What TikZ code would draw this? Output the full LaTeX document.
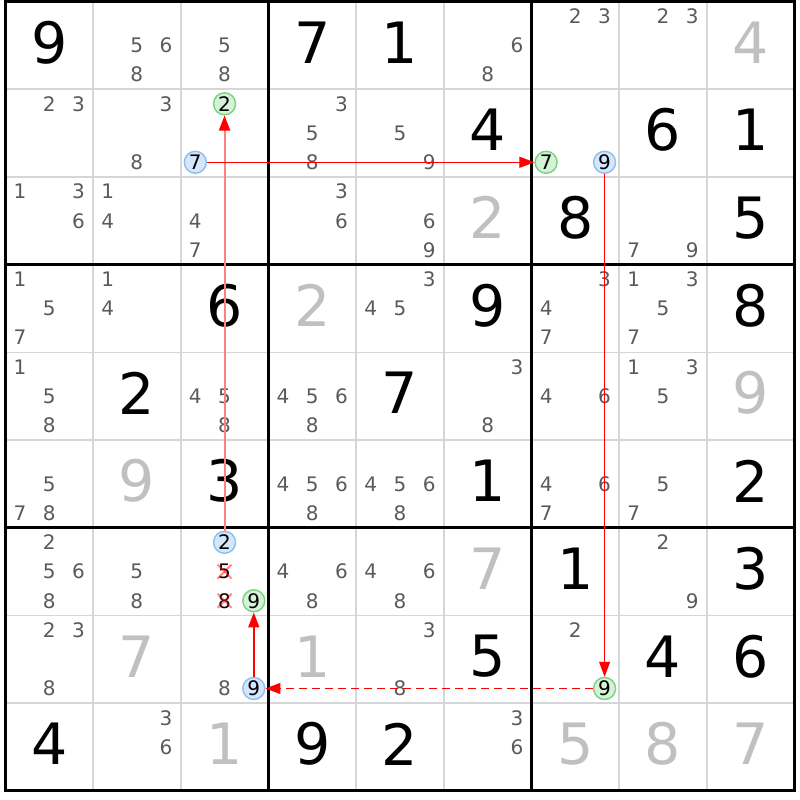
\documentclass[tikz,border=0pt]{standalone}
\usepackage{fontspec}
\setmainfont{DejaVu Sans}
\usepackage{xcolor}
\usetikzlibrary{arrows.meta}

\definecolor{gridgray}{RGB}{214,214,214}
\definecolor{candgray}{RGB}{90,90,90}
\definecolor{solvedgray}{RGB}{192,192,192}
\definecolor{onfill}{RGB}{212,242,214}
\definecolor{onedge}{RGB}{120,210,130}
\definecolor{offfill}{RGB}{212,230,250}
\definecolor{offedge}{RGB}{140,190,240}

\begin{document}
\begin{tikzpicture}[x=87.7pt, y=-87.7pt]
\tikzstyle{given}=[inner sep=0pt, yshift=3pt, text=black,
                   font=\fontsize{57}{57}\selectfont]
\tikzstyle{solved}=[given, text=solvedgray]
\tikzstyle{cand}=[inner sep=0pt, text=candgray,
                  font=\fontsize{20}{20}\selectfont]
\tikzstyle{oncand}=[cand, circle, text=black, draw=onedge, fill=onfill,
                    line width=1.4pt, minimum size=22pt]
\tikzstyle{offcand}=[oncand, draw=offedge, fill=offfill]
\tikzstyle{gone}=[cand, text=black]
\tikzstyle{cross}=[draw=red, draw opacity=.45, line width=2pt]
\tikzstyle{link}=[draw=red, line width=1pt,
                  -{Triangle[length=15pt, width=11pt]}]
\tikzstyle{strong}=[draw=red!50, line width=2pt,
                    -{Triangle[length=15pt, width=11pt, color=red]}]
\useasboundingbox (-5.3pt,1.5pt) rectangle (794.7pt,-798.5pt);

% thin cell lines, then box lines
\foreach \i in {1,2,4,5,7,8} {
  \draw[gridgray, line width=1.6pt] (\i,0) -- (\i,9);
  \draw[gridgray, line width=1.6pt] (0,\i) -- (9,\i);
}
\foreach \i in {3,6} {
  \draw[line width=3pt] (\i,0) -- (\i,9);
  \draw[line width=3pt] (0,\i) -- (9,\i);
}
\draw[line width=3pt] (0,0) rectangle (9,9);

% givens
\foreach \c/\r/\d in {1/1/9, 4/1/7, 5/1/1, 6/2/4, 8/2/6, 9/2/1, 7/3/8, 9/3/5,
    3/4/6, 6/4/9, 9/4/8, 2/5/2, 5/5/7, 3/6/3, 6/6/1, 9/6/2, 7/7/1, 9/7/3,
    6/8/5, 8/8/4, 9/8/6, 1/9/4, 4/9/9, 5/9/2}
  \node[given] (g-\c-\r) at (\c-0.5,\r-0.5) {\d};

% solved cells
\foreach \c/\r/\d in {9/1/4, 6/3/2, 4/4/2, 9/5/9, 2/6/9, 6/7/7, 2/8/7,
    4/8/1, 3/9/1, 7/9/5, 8/9/8, 9/9/7}
  \node[solved] (s-\c-\r) at (\c-0.5,\r-0.5) {\d};

% pencil marks
\foreach \c/\r/\ds in {2/1/{5,6,8}, 3/1/{5,8}, 6/1/{6,8}, 7/1/{2,3}, 8/1/{2,3},
    1/2/{2,3}, 2/2/{3,8}, 4/2/{3,5,8}, 5/2/{5,9},
    1/3/{1,3,6}, 2/3/{1,4}, 3/3/{4,7}, 4/3/{3,6}, 5/3/{6,9}, 8/3/{7,9},
    1/4/{1,5,7}, 2/4/{1,4}, 5/4/{3,4,5}, 7/4/{3,4,7}, 8/4/{1,3,5,7},
    1/5/{1,5,8}, 3/5/{4,5,8}, 4/5/{4,5,6,8}, 6/5/{3,8}, 7/5/{4,6}, 8/5/{1,3,5},
    1/6/{5,7,8}, 4/6/{4,5,6,8}, 5/6/{4,5,6,8}, 7/6/{4,6,7}, 8/6/{5,7},
    1/7/{2,5,6,8}, 2/7/{5,8}, 4/7/{4,6,8}, 5/7/{4,6,8}, 8/7/{2,9},
    1/8/{2,3,8}, 3/8/{8}, 5/8/{3,8}, 7/8/{2},
    2/9/{3,6}, 6/9/{3,6}}
  \foreach \d in \ds {
    \pgfmathtruncatemacro\sc{mod(\d-1,3)}
    \pgfmathtruncatemacro\sr{div(\d-1,3)}
    \node[cand] (c-\c-\r-\d) at ({\c-0.5+(\sc-1)/3},{\r-0.5+(\sr-1)/3}) {\d};
  }

% the chain's candidates
\node[oncand]  (g2r2) at (2.5,1.1667)    {2};
\node[offcand] (b7r2) at (2.1667,1.8333) {7};
\node[oncand]  (g7r2) at (6.1667,1.8333) {7};
\node[offcand] (b9r2) at (6.8333,1.8333) {9};
\node[offcand] (b2r7) at (2.5,6.1667)    {2};
\node[gone]    (x5r7) at (2.5,6.5)       {5};
\node[gone]    (x8r7) at (2.5,6.8333)    {8};
\node[oncand]  (g9r7) at (2.8333,6.8333) {9};
\node[offcand] (b9r8) at (2.8333,7.8333) {9};
\node[oncand]  (g9r8) at (6.8333,7.8333) {9};

% links
\draw[link, line width=1.5pt, draw=red] (b9r8) -- (g9r7);
\draw[strong] (b2r7) -- (g2r2);
\draw[link] (b7r2) -- (g7r2);
\draw[link] (b9r2) -- (g9r8);
\draw[link, line width=1.4pt, dash pattern=on 8pt off 5pt] (g9r8) -- (b9r8);

% eliminated marks
\foreach \x in {x5r7, x8r7} {
  \draw[cross] (\x.center) +(-7pt,-7pt) -- +(7pt,7pt);
  \draw[cross] (\x.center) +(-7pt,7pt) -- +(7pt,-7pt);
}
\end{tikzpicture}
\end{document}
